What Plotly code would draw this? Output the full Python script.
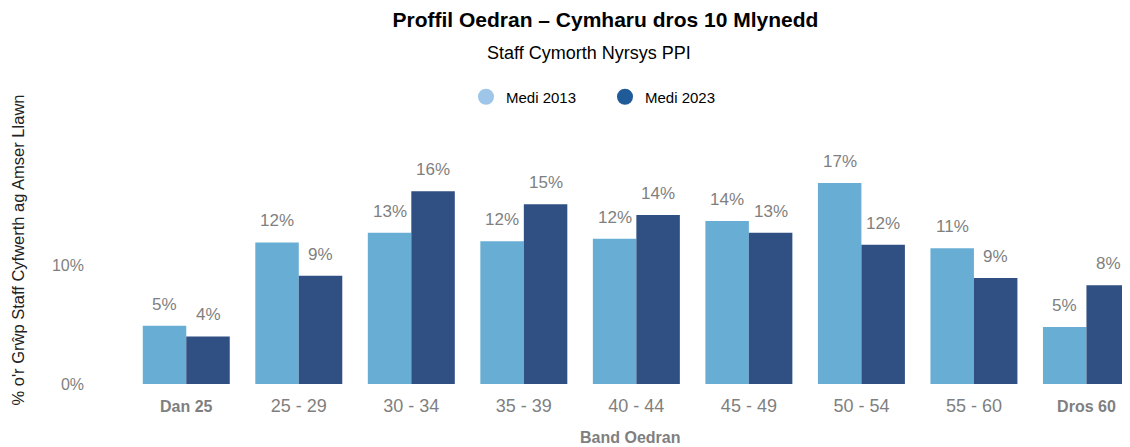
import plotly.graph_objects as go

categories = ["Dan 25", "25 - 29", "30 - 34", "35 - 39", "40 - 44", "45 - 49", "50 - 54", "55 - 60", "Dros 60"]
tick_labels = ["<b><span style='font-size:16px'>Dan 25</span></b>", "25 - 29", "30 - 34", "35 - 39", "40 - 44",
               "45 - 49", "50 - 54", "55 - 60", "<b><span style='font-size:16px'>Dros 60</span></b>"]
medi_2013 = [4.9, 11.9, 12.7, 12.0, 12.2, 13.7, 16.9, 11.4, 4.8]
medi_2023 = [4.0, 9.1, 16.2, 15.1, 14.2, 12.7, 11.7, 8.9, 8.3]
series_names = ["Medi 2013", "Medi 2023"]
y_tick_vals = [0, 10]
y_tick_text = ["0%", "10%"]

FONT = "Liberation Sans, Arial, sans-serif"
GRAY = "#7f7f7f"
BAR_COLORS = ["#68AED4", "#304F82"]
LEGEND_COLORS = ["#9DC6E8", "#1F5A99"]

# page body has an 8px margin: the figure is drawn 8px in from top/left
W, H = 1122, 439
PLOT_L, PLOT_T, PLOT_B = 122, 138, 63

fig = go.Figure()
annotations = []
bar_half = 21.75  # half a bar's width in pixels, for label offsets
for i, vals in enumerate([medi_2013, medi_2023]):
    fig.add_trace(go.Bar(x=categories, y=vals, name=series_names[i], marker_color=BAR_COLORS[i],
                         marker_line_width=0, showlegend=False))
    for cat, v in zip(categories, vals):
        annotations.append(dict(x=cat, y=v, xref="x", yref="y", text=f"{v:.0f}%", showarrow=False,
                                xshift=(-bar_half if i == 0 else bar_half), yshift=10,
                                yanchor="bottom", xanchor="center",
                                font=dict(size=17, color=GRAY, family=FONT)))
    fig.add_trace(go.Scatter(x=[None], y=[None], mode="markers", name=series_names[i],
                             marker=dict(symbol="circle", size=19, color=LEGEND_COLORS[i])))

annotations += [
    dict(text="Staff Cymorth Nyrsys PPI", x=0.459, y=1.39, xref="paper", yref="paper",
         showarrow=False, font=dict(size=18, color="black", family=FONT), yanchor="middle"),
    dict(text="<b>Band Oedran</b>", x=0.5, y=-0.223, xref="paper", yref="paper",
         showarrow=False, font=dict(size=16, color=GRAY, family=FONT), yanchor="middle"),
    dict(text="% o'r Grŵp Staff Cyfwerth ag Amser Llawn", x=-0.112, y=0.561, xref="paper",
         yref="paper", showarrow=False, textangle=-90,
         font=dict(size=16.5, color="#222222", family=FONT), xanchor="center", yanchor="middle"),
]

fig.update_layout(
    width=W, height=H,
    margin=dict(l=PLOT_L, r=0, t=PLOT_T, b=PLOT_B),
    paper_bgcolor="white", plot_bgcolor="white",
    font=dict(family=FONT, color=GRAY),
    barmode="group", bargap=0.227, bargroupgap=0,
    title=dict(text="<b>Proffil Oedran – Cymharu dros 10 Mlynedd</b>", x=0.5325, xanchor="center",
               y=1 - 12 / H, yanchor="middle", font=dict(size=21, color="black", family=FONT)),
    legend=dict(orientation="h", x=0.336, xanchor="left", y=1.206, yanchor="middle",
                font=dict(size=15, color="black", family=FONT), entrywidth=94,
                entrywidthmode="pixels", traceorder="normal"),
    xaxis=dict(range=[-0.5, 8.387], tickmode="array", tickvals=categories, ticktext=tick_labels,
               tickfont=dict(size=18, color=GRAY, family=FONT), showgrid=False, showline=False,
               zeroline=False, ticks="", ticklabelstandoff=9),
    yaxis=dict(range=[0, 20], tickmode="array", tickvals=y_tick_vals, ticktext=y_tick_text,
               tickfont=dict(size=16, color=GRAY, family=FONT), showgrid=False, zeroline=False,
               showline=False, ticklabelstandoff=45),
    annotations=annotations,
)

fig.write_html("out.html")
